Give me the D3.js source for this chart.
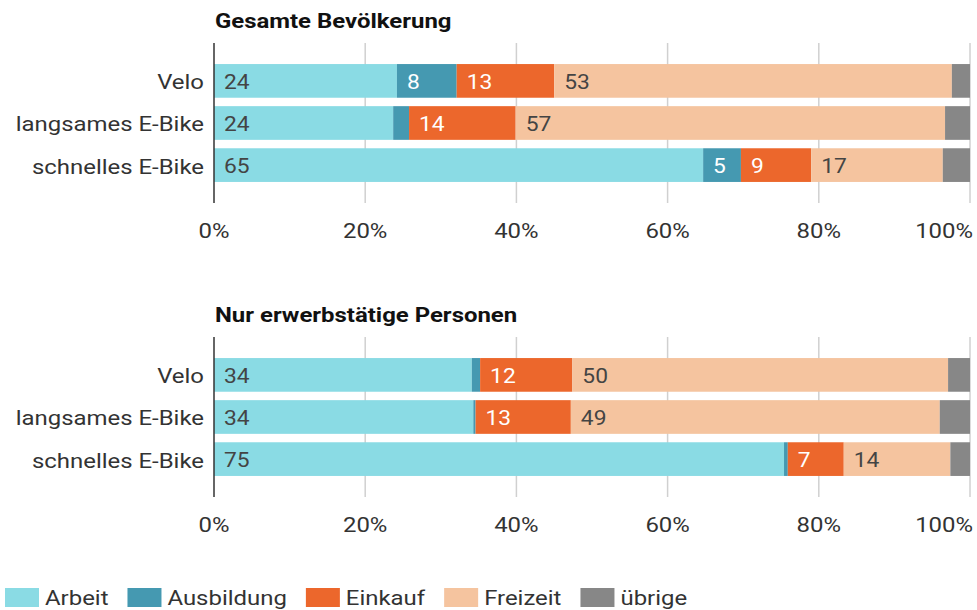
<!DOCTYPE html>
<html>
<head>
<meta charset="utf-8">
<script src="https://cdn.jsdelivr.net/npm/d3@7"></script>
<style>
  body { margin: 0; background: #fff; }
  text { font-family: Roboto, "Noto Sans", sans-serif; }
</style>
</head>
<body>
<div id="chart"></div>
<script>
// categories, series and values (percent)
const categories = ["Velo", "langsames E-Bike", "schnelles E-Bike"];
const seriesNames = ["Arbeit", "Ausbildung", "Einkauf", "Freizeit", "übrige"];
const seriesColors = ["#8adbe4", "#4599b1", "#ec672c", "#f5c49f", "#878787"];
const labelColors = ["#444", "#fff", "#fff", "#444", "#444"];
const panelTitles = ["Gesamte Bevölkerung", "Nur erwerbstätige Personen"];
const tickValues = [0, 20, 40, 60, 80, 100];

// Gesamte Bevölkerung
const totalArbeit     = [24.2, 23.7, 64.7];
const totalAusbildung = [7.9, 2.1, 5.0];
const totalEinkauf    = [12.9, 14.1, 9.3];
const totalFreizeit   = [52.6, 56.8, 17.4];
const totalUebrige    = [2.4, 3.3, 3.6];

// Nur erwerbstätige Personen
const workArbeit     = [34.1, 34.3, 75.4];
const workAusbildung = [1.1, 0.3, 0.5];
const workEinkauf    = [12.2, 12.6, 7.4];
const workFreizeit   = [49.7, 48.8, 14.1];
const workUebrige    = [2.9, 4.0, 2.6];

const panels = [
  [totalArbeit, totalAusbildung, totalEinkauf, totalFreizeit, totalUebrige],
  [workArbeit, workAusbildung, workEinkauf, workFreizeit, workUebrige]
];

const width = 977, height = 610;
const margin = { left: 214, right: 7 };
const panelOffset = 294;
// the original type is a little wider than Roboto
const sx = 1.14;

const svg = d3.select("#chart")
  .append("svg")
    .attr("width", width)
    .attr("height", height)
    .attr("viewBox", `0 0 ${width} ${height}`);

const xScale = d3.scaleLinear()
  .domain([0, 100])
  .range([margin.left, width - margin.right]);

const colorScale = d3.scaleOrdinal()
  .domain(seriesNames)
  .range(seriesColors);

// put text at x with the horizontal stretch
const stretchX = (sel, fx) => sel
  .attr("x", (d, i) => (typeof fx === "function" ? fx(d, i) : fx) / sx)
  .attr("transform", `scale(${sx}, 1)`);

panels.forEach((series, p) => {
  const top = p * panelOffset;
  const g = svg.append("g").attr("transform", `translate(0, ${top})`);

  const yScale = d3.scaleBand()
    .domain(categories)
    .range([43, 203])
    .paddingInner(0.2)
    .paddingOuter(0.5);

  // rows for the stack
  const rows = categories.map((c, i) => {
    const row = { category: c };
    seriesNames.forEach((s, j) => row[s] = series[j][i]);
    return row;
  });
  const stacked = d3.stack().keys(seriesNames)(rows);

  // title
  g.append("text")
    .text(panelTitles[p])
    .call(stretchX, margin.left + 1)
    .attr("y", 28)
    .attr("font-size", "21px")
    .attr("font-weight", "bold")
    .attr("fill", "#111");

  // gridlines
  g.append("g")
    .selectAll("line")
    .data(tickValues.filter(d => d > 0))
    .join("line")
      .attr("x1", d => xScale(d))
      .attr("x2", d => xScale(d))
      .attr("y1", 43)
      .attr("y2", 203)
      .attr("stroke", "#d0d0d0")
      .attr("stroke-width", 1.5);

  // bars
  g.append("g")
    .selectAll("g")
    .data(stacked)
    .join("g")
      .attr("fill", d => colorScale(d.key))
    .selectAll("rect")
    .data(d => d)
    .join("rect")
      .attr("x", d => xScale(d[0]))
      .attr("y", d => yScale(d.data.category))
      .attr("width", d => xScale(d[1]) - xScale(d[0]))
      .attr("height", yScale.bandwidth());

  // value labels
  stacked.forEach((layer, j) => {
    g.append("g")
      .selectAll("text")
      .data(layer.filter(d => j < 4 && d[1] - d[0] >= 4.5))
      .join("text")
        .text(d => Math.round(d[1] - d[0]))
        .call(stretchX, d => xScale(d[0]) + 10)
        .attr("y", d => yScale(d.data.category) + yScale.bandwidth() / 2 + 1)
        .attr("dominant-baseline", "central")
        .attr("font-size", "20px")
        .attr("fill", labelColors[j]);
  });

  // left axis line
  g.append("line")
    .attr("x1", margin.left)
    .attr("x2", margin.left)
    .attr("y1", 43)
    .attr("y2", 203)
    .attr("stroke", "#333")
    .attr("stroke-width", 1.5);

  // category labels
  g.append("g")
    .selectAll("text")
    .data(categories)
    .join("text")
      .text(d => d)
      .call(stretchX, margin.left - 10)
      .attr("y", d => yScale(d) + yScale.bandwidth() / 2 + 1)
      .attr("text-anchor", "end")
      .attr("dominant-baseline", "central")
      .attr("font-size", "21px")
      .attr("fill", "#333");

  // tick labels (last one kept inside the edge)
  g.append("g")
    .selectAll("text")
    .data(tickValues)
    .join("text")
      .text(d => d + "%")
      .call(stretchX, d => d === 100 ? width - 4 : xScale(d))
      .attr("y", 231)
      .attr("text-anchor", d => d === 100 ? "end" : "middle")
      .attr("dominant-baseline", "central")
      .attr("font-size", "21px")
      .attr("fill", "#333");
});

// legend
const legend = svg.append("g").attr("transform", "translate(5, 588)");
let lx = 0;
seriesNames.forEach((s, i) => {
  const item = legend.append("g").attr("transform", `translate(${lx}, 0)`);
  item.append("rect")
    .attr("width", 34)
    .attr("height", 19)
    .attr("fill", colorScale(s));
  const t = item.append("text")
    .text(s)
    .call(stretchX, 40)
    .attr("y", 10)
    .attr("dominant-baseline", "central")
    .attr("font-size", "21px")
    .attr("fill", "#333");
  lx += 40 + t.node().getComputedTextLength() * sx + 19;
});
</script>
</body>
</html>
